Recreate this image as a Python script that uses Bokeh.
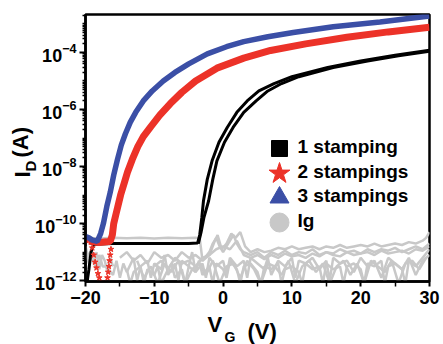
from bokeh.plotting import figure
from bokeh.models import Range1d, FixedTicker, Label, Title
from bokeh.embed import file_html
from bokeh.resources import INLINE

# ---------------- data (VG in V, log10 of current in A) ----------------
black_fwd_vg = [-19.8, -19.5, -19.2, -18.8, -16, -12, -8, -5, -3.7, -3.4, -3.1, -2.85, -2.3, -1.6, -0.6,
                0.6, 2.0, 3.5, 5.2, 7.4, 10, 15.2, 20, 25, 30]
black_fwd_log = [-12.1, -11.6, -11.0, -10.72, -10.7, -10.7, -10.7, -10.7, -10.68, -10.4, -9.8, -9.2, -8.45,
                 -7.8, -7.15, -6.63, -6.1, -5.7, -5.35, -5.09, -4.85, -4.53, -4.3, -4.1, -3.92]
black_rev_vg = [-3.6, -3.2, -2.8, -2.1, -1.5, -0.9, 0.2, 1.45, 3.0, 4.8, 6.5, 8.5, 11, 16, 21, 25.5, 30]
black_rev_log = [-10.7, -10.3, -9.8, -9.2, -8.45, -7.8, -7.15, -6.63, -6.1, -5.7, -5.35, -5.09, -4.85,
                 -4.53, -4.3, -4.12, -3.96]

red_vg = [-19.5, -18.8, -18.0, -17.0, -16.4, -16.1, -15.9, -15.6, -15.3, -14.9, -14.4, -13.9,
          -13.2, -12.4, -11.6, -10.5, -9.2, -7.7, -6, -4, -0.9, 3, 6.9, 12, 18, 24, 30]
red_log = [-10.62, -10.64, -10.66, -10.64, -10.62, -10.4, -10.0, -9.7, -9.4, -9.0, -8.6, -8.2,
           -7.75, -7.3, -6.95, -6.6, -6.2, -5.8, -5.4, -5.0, -4.55, -4.2, -3.93, -3.7, -3.47, -3.28, -3.12]
red_left_vg = [-20, -19.5]
red_left_log = [-10.6, -10.62]
red_dots_a_vg = [-19.0, -18.8, -18.6, -18.4, -18.2, -18.0, -17.8]
red_dots_a_log = [-10.85, -11.1, -11.35, -11.55, -11.75, -11.9, -12.05]
red_dots_b_vg = [-16.3, -16.4, -16.5, -16.6, -16.7, -16.8]
red_dots_b_log = [-10.9, -11.1, -11.3, -11.5, -11.7, -11.9]

blue_vg = [-20, -19.5, -19, -18.3, -17.8, -17.4, -16.9, -16.4, -15.9, -15.35, -14.8, -14.2, -13.5, -12.7,
           -11.6, -10.3, -8.7, -7, -5.0, -2.3, 0.5, 3.0, 6.5, 10.2, 16.0, 22.8, 30]
blue_log = [-10.45, -10.5, -10.58, -10.62, -10.35, -10.0, -9.4, -8.9, -8.3, -7.75, -7.25, -6.85, -6.45,
            -6.1, -5.7, -5.35, -5.0, -4.7, -4.4, -4.05, -3.8, -3.62, -3.45, -3.3, -3.1, -2.93, -2.72]

ig_a_vg = [-20, -18, -16, -14, -12, -10, -8, -6, -4, -3.4, -3.2, -3.0, -2, -1.2, -0.8, -0.2, 0.5, 1.2,
           1.8, 2.5, 3.2, 4, 5, 6, 7, 8, 9, 10, 11, 12, 13, 14, 15, 16, 17, 18, 19, 20, 21, 22, 23, 24,
           25, 26, 27, 28, 29, 29.5, 30]
ig_a_log = [-10.5, -10.52, -10.5, -10.51, -10.5, -10.52, -10.5, -10.51, -10.5, -10.52, -10.9, -11.3,
            -11.1, -10.6, -10.4, -10.9, -10.7, -10.35, -10.5, -10.3, -10.8, -11.0, -10.9, -11.0, -10.95,
            -10.85, -10.9, -10.8, -10.9, -10.85, -10.8, -10.9, -10.8, -10.85, -10.75, -10.85, -10.8,
            -10.75, -10.8, -10.7, -10.8, -10.75, -10.7, -10.75, -10.65, -10.7, -10.6, -10.5, -10.3]
ig_b_vg = [-20, -19.5, -19, -18.5, -18, -17.5, -17, -16, -15.5, -15, -14.5, -14, -13, -12.5, -12, -11,
           -10.5, -10, -9, -8.5, -8, -7, -6.5, -6, -5, -4.5, -4, -3, -2.5, -2, -1, 0, 0.5, 1, 2, 3,
           3.5, 4, 5, 6, 6.5, 7, 8, 9, 10, 10.5, 11, 12, 13, 14, 15, 15.5, 16, 17, 18, 19, 20, 21, 22,
           23, 24, 25, 26, 27, 28, 29, 30]
ig_b_log = [-11.0, -11.4, -11.0, -11.6, -11.1, -11.5, -11.5, -11.8, -11.3, -11.9, -11.4, -11.7, -11.2,
            -12.0, -11.5, -11.3, -11.9, -11.4, -11.6, -11.1, -11.8, -11.4, -12.0, -11.3, -11.5, -11.0,
            -11.7, -11.4, -11.9, -11.2, -11.5, -11.3, -11.8, -11.2, -11.5, -11.3, -11.9, -11.2, -11.4,
            -11.6, -11.2, -11.8, -11.3, -11.5, -11.2, -11.9, -11.3, -11.4, -11.2, -11.6, -11.3, -12.0,
            -11.2, -11.4, -11.3, -11.7, -11.2, -11.5, -11.3, -11.9, -11.2, -11.4, -11.6, -11.2, -11.8,
            -11.3, -11.1]
ig_c_vg = [-15, -14, -13, -12, -11, -10, -9, -8, -7, -6, -5, -4, -3, -2, -1.5, -1, -0.5, 0, 1, 1.5, 2,
           2.5, 3, 4, 5, 6, 7, 8, 9, 10, 11, 12, 13, 14, 15, 16, 17, 18, 19, 20, 21, 22, 23, 24, 25,
           26, 27, 28, 29, 30]
ig_c_log = [-11.2, -11.0, -11.3, -11.1, -11.4, -11.0, -11.2, -11.1, -11.3, -11.0, -11.2, -11.1, -11.3,
            -11.0, -10.7, -10.5, -10.8, -11.0, -10.6, -10.4, -10.7, -10.9, -11.0, -11.1, -11.0, -11.2,
            -11.0, -11.1, -10.95, -11.1, -11.0, -11.05, -10.9, -11.1, -11.0, -11.05, -10.9, -11.0,
            -10.95, -11.05, -10.9, -11.0, -10.9, -10.95, -10.85, -11.0, -10.9, -10.8, -10.9, -10.7]
ig_d_vg = [-14, -13.5, -13, -12, -11.5, -11, -10, -9.5, -9, -8, -7.5, -7, -6, -5.5, -5, -4, -3.5, -3, -2,
           -1.5, -1, 0, 0.5, 1, 2, 2.5, 3, 4, 5, 5.5, 6, 7, 8, 8.5, 9, 10, 11, 11.5, 12, 13, 14, 14.5,
           15, 16, 17, 17.5, 18, 19, 20, 20.5, 21, 22, 23, 23.5, 24, 25, 26, 26.5, 27, 28, 29, 30]
ig_d_log = [-11.6, -12.1, -11.7, -11.5, -12.1, -11.6, -11.8, -11.5, -12.1, -11.6, -11.4, -11.9, -11.6,
            -12.1, -11.5, -11.7, -11.3, -11.8, -11.5, -12.1, -11.4, -11.6, -11.9, -11.3, -11.6, -12.1,
            -11.5, -11.4, -11.7, -12.1, -11.5, -11.6, -11.4, -12.1, -11.6, -11.5, -11.7, -12.1, -11.4,
            -11.6, -11.5, -12.1, -11.4, -11.6, -11.5, -12.1, -11.5, -11.4, -11.6, -12.1, -11.4, -11.5,
            -11.3, -12.1, -11.5, -11.4, -11.6, -12.1, -11.3, -11.5, -11.2, -10.9]
ig_e_vg = [-10, -9, -8, -7, -6, -5, -4, -3, -2, -1, 0, 1, 2, 3, 4, 5, 6, 7, 8, 9, 10, 11, 12, 13, 14,
           15, 16, 17, 18, 19, 20, 21, 22, 23, 24, 25, 26, 27, 28, 29, 30]
ig_e_log = [-11.5, -11.3, -11.6, -11.2, -11.4, -11.3, -11.5, -11.2, -11.1, -10.9, -10.8, -10.9, -10.6,
            -11.1, -11.2, -11.1, -11.25, -11.1, -11.2, -11.05, -11.15, -11.1, -11.2, -11.05, -11.15,
            -11.0, -11.1, -11.15, -11.0, -11.1, -11.05, -11.0, -11.1, -10.95, -11.05, -11.0, -10.95,
            -11.05, -10.9, -10.95, -10.8]
ig_f_vg = [-12.5, -11.5, -10.5, -9.5, -8.5, -7.5, -6.5, -5.5, -4.5, -3.5, -2.5, -1.5, -0.5, 0.5, 1.5,
           2.5, 3.5, 4.5, 5.5, 6.5, 7.5, 8.5, 9.5, 10.5, 11.5, 12.5, 13.5, 14.5, 15.5, 16.5, 17.5,
           18.5, 19.5, 20.5, 21.5, 22.5, 23.5, 24.5, 25.5, 26.5, 27.5, 28.5, 29.5]
ig_f_log = [-11.3, -11.9, -11.5, -12.1, -11.4, -11.7, -11.3, -12.1, -11.6, -11.4, -11.8, -11.3, -12.1,
            -11.5, -11.4, -11.9, -11.3, -11.6, -12.1, -11.4, -11.5, -11.8, -11.3, -12.1, -11.5, -11.3,
            -11.7, -11.4, -12.1, -11.5, -11.3, -11.8, -11.4, -12.1, -11.3, -11.5, -11.7, -11.3, -12.1,
            -11.4, -11.3, -11.6, -11.2]
ig_g_vg = [-20, -19.6, -19.2, -18.8, -18.4, -18.0, -17.6, -17.2, -16.8, -16.4, -16.0]
ig_g_log = [-10.8, -11.2, -10.9, -11.4, -11.0, -11.6, -11.1, -11.3, -11.7, -11.2, -11.5]

legend_labels = ["1 stamping", "2 stampings", "3 stampings", "Ig"]
x_ticks = [-20, -10, 0, 10, 20, 30]
x_minor = [-15, -5, 5, 15, 25]
y_tick_exps = [-12, -10, -8, -6, -4]

BLACK = "#000000"
RED = "#ec3228"
BLUE = "#3b4fa6"
GRAY = "#c8c8c8"
FONT = "Liberation Sans"


def cur(logs):
    return [10.0 ** v for v in logs]


# ---------------- layout geometry (pixels) ----------------
W, H = 443, 344
FL, FR, FT, FB = 85, 429, 14, 281
XMIN, XMAX = -20, 30
YLO, YHI = -12.03, -2.67


def dx(px):
    return XMIN + (px - FL) * (XMAX - XMIN) / (FR - FL)


def dy(py):
    return 10.0 ** (YHI - (py - FT) * (YHI - YLO) / (FB - FT))


p = figure(width=W, height=H, y_axis_type="log",
           x_range=Range1d(XMIN, XMAX), y_range=Range1d(10 ** YLO, 10 ** YHI),
           output_backend="svg", toolbar_location=None,
           min_border_left=FL, min_border_right=W - FR, min_border_top=FT, min_border_bottom=H - FB)
p.grid.visible = False
p.outline_line_color = "black"
p.outline_line_width = 2.5
p.background_fill_color = "white"
p.border_fill_color = "white"

# axes
p.xaxis.ticker = FixedTicker(ticks=x_ticks, minor_ticks=x_minor)
p.yaxis.ticker = FixedTicker(ticks=[10.0 ** e for e in y_tick_exps],
                             minor_ticks=[m * 10.0 ** d for d in range(-13, -1) for m in range(1, 10)
                                          if not (m == 1 and d in y_tick_exps)])
for ax in (p.xaxis, p.yaxis):
    ax.axis_line_width = 2.5
    ax.major_tick_line_width = 2
    ax.minor_tick_line_width = 1.5
    ax.major_tick_in = 0
    ax.minor_tick_in = 0
    ax.major_label_text_font = FONT
    ax.major_label_text_font_style = "bold"
    ax.major_label_text_font_size = "18px"
    ax.major_label_text_color = "black"
p.xaxis.major_tick_out = 5
p.xaxis.minor_tick_out = 5
p.xaxis.major_label_standoff = 4
p.yaxis.major_tick_out = 6
p.yaxis.minor_tick_out = 3
p.yaxis.major_label_standoff = 3

# gate current (gray)
for vx, lg in ((ig_f_vg, ig_f_log), (ig_d_vg, ig_d_log), (ig_b_vg, ig_b_log), (ig_e_vg, ig_e_log),
               (ig_c_vg, ig_c_log), (ig_g_vg, ig_g_log), (ig_a_vg, ig_a_log)):
    p.line(vx, cur(lg), line_color=GRAY, line_width=2.5)

# drain currents
p.line(black_fwd_vg, cur(black_fwd_log), line_color=BLACK, line_width=3)
p.line(black_rev_vg, cur(black_rev_log), line_color=BLACK, line_width=3)
p.line(red_left_vg, cur(red_left_log), line_color=RED, line_width=4)
p.line(red_vg, cur(red_log), line_color=RED, line_width=7)
p.scatter(red_dots_a_vg, cur(red_dots_a_log), marker="star", size=6, color=RED)
p.scatter(red_dots_b_vg, cur(red_dots_b_log), marker="star", size=6, color=RED)
p.line(blue_vg, cur(blue_log), line_color=BLUE, line_width=5.5)

# legend (manual)
leg_y = [148, 173, 197, 222]
leg_markers = ["square", "star", "triangle", "circle"]
leg_colors = [BLACK, RED, BLUE, GRAY]
leg_sizes = [16, 22, 19, 19]
for yy, mk, cl, sz, lab in zip(leg_y, leg_markers, leg_colors, leg_sizes, legend_labels):
    p.scatter([dx(279)], [dy(yy)], marker=mk, size=sz, color=cl)
    p.add_layout(Label(x=dx(297), y=dy(yy - 2), text=lab, text_font=FONT,
                       text_font_style="bold", text_font_size="19px", text_baseline="middle",
                       text_align="left", text_color="black"))


def title(text, size, offset, standoff, va):
    return Title(text=text, text_font=FONT, text_font_style="bold", text_font_size=size,
                 text_color="black", align="left", offset=offset, standoff=standoff,
                 vertical_align=va)


# x axis label  V_G (V)  (side-panel titles)
p.add_layout(title("V", "22px", 122, 11, "top"), "below")
p.add_layout(title("G", "14px", 139, -31, "top"), "below")
p.add_layout(title("(V)", "22px", 162, -52, "top"), "below")

# y axis label  I_D (A)
p.add_layout(title("D", "15px", 110, -12, "bottom"), "left")
p.add_layout(title("I", "22px", 104, -19, "bottom"), "left")
p.add_layout(title("(A)", "22px", 124, -30, "bottom"), "left")

open("out.html", "w").write(file_html(p, INLINE))
